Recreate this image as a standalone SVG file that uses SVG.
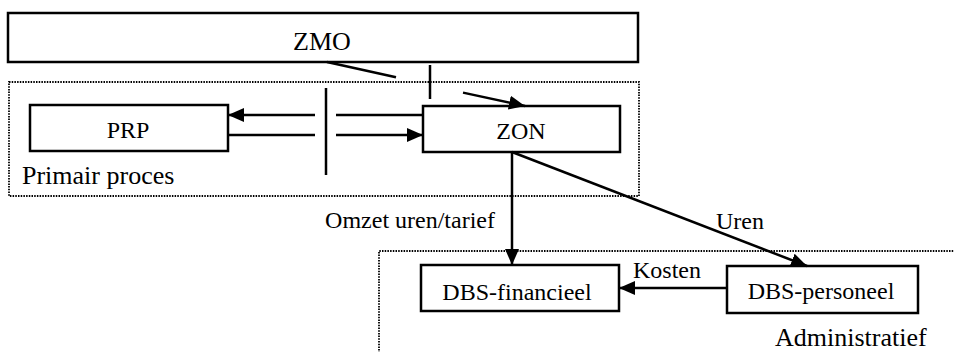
<svg xmlns="http://www.w3.org/2000/svg" width="954" height="352" viewBox="0 0 954 352">
  <style>
    .box { fill: #fff; stroke: #000; stroke-width: 2.5; }
    .zone { fill: none; stroke: #000; stroke-width: 1.8; stroke-dasharray: 1.5 1.2; }
    .line { fill: none; stroke: #000; stroke-width: 2.5; }
    .txt { font-family: "Liberation Serif", "Times New Roman", Times, serif; font-size: 24px; fill: #000; }
    .big { font-size: 26px; }
    .mid { text-anchor: middle; }
    .end { text-anchor: end; }
  </style>
  <defs>
    <marker id="arrow" viewBox="0 0 16 14" refX="16" refY="7" markerWidth="16" markerHeight="14" markerUnits="userSpaceOnUse" orient="auto">
      <path d="M0,0 L16,7 L0,14 Z" fill="#000"/>
    </marker>
  </defs>

  <rect width="954" height="352" fill="#fff"/>

  <!-- zones -->
  <g id="zone-primair">
    <rect class="zone" x="9" y="82" width="630" height="114"/>
    <text class="txt big" x="22" y="184">Primair proces</text>
  </g>
  <g id="zone-administratief">
    <path class="zone" d="M379,356 L379,251 L956,251"/>
    <text class="txt big" x="775" y="346">Administratief</text>
  </g>

  <!-- nodes -->
  <g id="zmo">
    <rect class="box" x="8" y="13" width="630" height="49"/>
    <text class="txt big mid" x="322" y="50">ZMO</text>
  </g>
  <g id="prp">
    <rect class="box" x="30" y="105" width="198" height="46"/>
    <text class="txt mid" x="128" y="138">PRP</text>
  </g>
  <g id="zon">
    <rect class="box" x="423" y="106" width="197" height="46"/>
    <text class="txt mid" x="521" y="139">ZON</text>
  </g>
  <g id="dbs-financieel">
    <rect class="box" x="421" y="265" width="198" height="46"/>
    <text class="txt mid" x="517" y="300">DBS-financieel</text>
  </g>
  <g id="dbs-personeel">
    <rect class="box" x="727" y="266" width="191" height="47"/>
    <text class="txt mid" x="821" y="299">DBS-personeel</text>
  </g>

  <!-- connectors -->
  <g id="connectors">
    <!-- ZMO to ZON, interrupted by a barrier -->
    <line class="line" x1="327" y1="62" x2="396" y2="77.3"/>
    <line class="line" x1="463" y1="92.6" x2="525" y2="106" marker-end="url(#arrow)"/>
    <line class="line" x1="430" y1="65" x2="430" y2="99"/>

    <!-- ZON <-> PRP, interrupted by a barrier -->
    <line class="line" x1="315" y1="115" x2="228" y2="115" marker-end="url(#arrow)"/>
    <line class="line" x1="336" y1="115" x2="423" y2="115"/>
    <line class="line" x1="228" y1="135" x2="315" y2="135"/>
    <line class="line" x1="336" y1="135" x2="423" y2="135" marker-end="url(#arrow)"/>
    <line class="line" x1="326" y1="88" x2="326" y2="175"/>

    <!-- ZON to DBS-financieel -->
    <line class="line" x1="512" y1="152" x2="512" y2="265" marker-end="url(#arrow)"/>
    <text class="txt end" x="495" y="228">Omzet uren/tarief</text>

    <!-- ZON to DBS-personeel -->
    <line class="line" x1="512" y1="152" x2="807" y2="266" marker-end="url(#arrow)"/>
    <text class="txt mid" x="740" y="229">Uren</text>

    <!-- DBS-personeel to DBS-financieel -->
    <line class="line" x1="727" y1="288" x2="619" y2="288" marker-end="url(#arrow)"/>
    <text class="txt" x="633" y="278">Kosten</text>
  </g>
</svg>
